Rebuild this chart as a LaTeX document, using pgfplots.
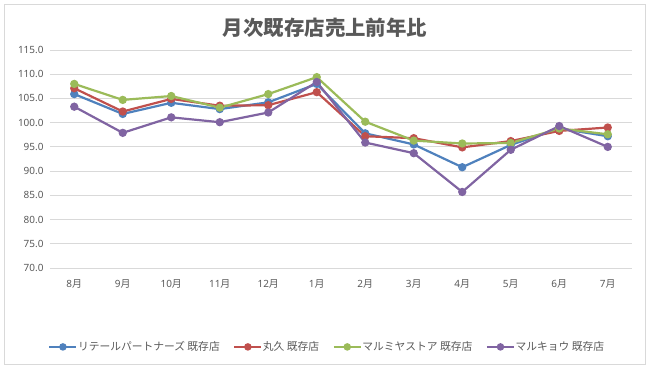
\documentclass[border=0pt]{standalone}
\usepackage{fontspec}
\setmainfont{Noto Sans}
\newfontfamily\cjk{Noto Sans CJK JP}
\usepackage{pgfplots}
\pgfplotsset{compat=1.18}
\definecolor{cblue}{HTML}{4F81BD}
\definecolor{cred}{HTML}{C0504D}
\definecolor{cgreen}{HTML}{9BBB59}
\definecolor{cpurple}{HTML}{8064A2}
\definecolor{textgray}{HTML}{595959}
\definecolor{gridgray}{HTML}{D9D9D9}
\begin{document}
\begin{tikzpicture}
\path (0,0) rectangle (650bp,368bp);
\draw[color=gridgray, line width=0.8bp] (4bp,4bp) rectangle (645bp,364bp);
\node[font=\cjk\bfseries\fontsize{20.5}{23}\selectfont, text=textgray] at (325bp,340bp) {月次既存店売上前年比};
\begin{axis}[
  at={(50bp,100bp)}, anchor=south west,
  scale only axis, width=582bp, height=218bp,
  xmin=-0.5, xmax=11.5, ymin=70, ymax=115,
  ytick={70,75,...,115},
  xtick={0,...,11},
  xticklabels={8{\cjk 月},9{\cjk 月},10{\cjk 月},11{\cjk 月},12{\cjk 月},1{\cjk 月},2{\cjk 月},3{\cjk 月},4{\cjk 月},5{\cjk 月},6{\cjk 月},7{\cjk 月}},
  ymajorgrids, grid style={color=gridgray, line width=0.8bp},
  axis line style={draw=none},
  major tick length=0pt,
  tick label style={text=textgray},
  xticklabel style={font=\fontsize{10}{11}\selectfont, yshift=-8bp},
  yticklabel style={font=\fontsize{10}{11}\selectfont, xshift=-3bp,
    /pgf/number format/.cd, fixed, fixed zerofill, precision=1, assume math mode=true},
  every axis plot/.append style={line width=2.2bp, mark=*, mark size=3bp},
  legend style={at={(0.475,-0.362)}, anchor=center, draw=none, legend columns=4,
    font=\cjk\fontsize{10.8}{12}\selectfont, text=textgray,
    nodes={inner sep=0.5bp},
    /tikz/every even column/.append style={column sep=13bp}},
  legend image code/.code={\draw[#1, mark repeat=2, mark phase=2, mark size=2.6bp] plot coordinates {(0bp,0bp) (13.5bp,0bp) (27bp,0bp)};},
]
\addplot[color=cblue, mark options={fill=cblue}] coordinates {
(0,105.9) (1,101.8) (2,104.1) (3,102.8) (4,104.2) (5,108.0) (6,97.8) (7,95.5) (8,90.8) (9,95.4) (10,98.8) (11,97.2)};
\addlegendentry{リテールパートナーズ 既存店}
\addplot[color=cred, mark options={fill=cred}] coordinates {
(0,107.1) (1,102.3) (2,104.9) (3,103.5) (4,103.6) (5,106.3) (6,97.2) (7,96.8) (8,94.9) (9,96.2) (10,98.3) (11,99.0)};
\addlegendentry{丸久 既存店}
\addplot[color=cgreen, mark options={fill=cgreen}] coordinates {
(0,108.0) (1,104.7) (2,105.5) (3,103.1) (4,105.9) (5,109.4) (6,100.2) (7,96.3) (8,95.7) (9,95.8) (10,98.8) (11,97.6)};
\addlegendentry{マルミヤストア 既存店}
\addplot[color=cpurple, mark options={fill=cpurple}] coordinates {
(0,103.3) (1,97.9) (2,101.1) (3,100.1) (4,102.1) (5,108.4) (6,95.9) (7,93.7) (8,85.7) (9,94.4) (10,99.3) (11,95.0)};
\addlegendentry{マルキョウ 既存店}
\end{axis}
\end{tikzpicture}
\end{document}
